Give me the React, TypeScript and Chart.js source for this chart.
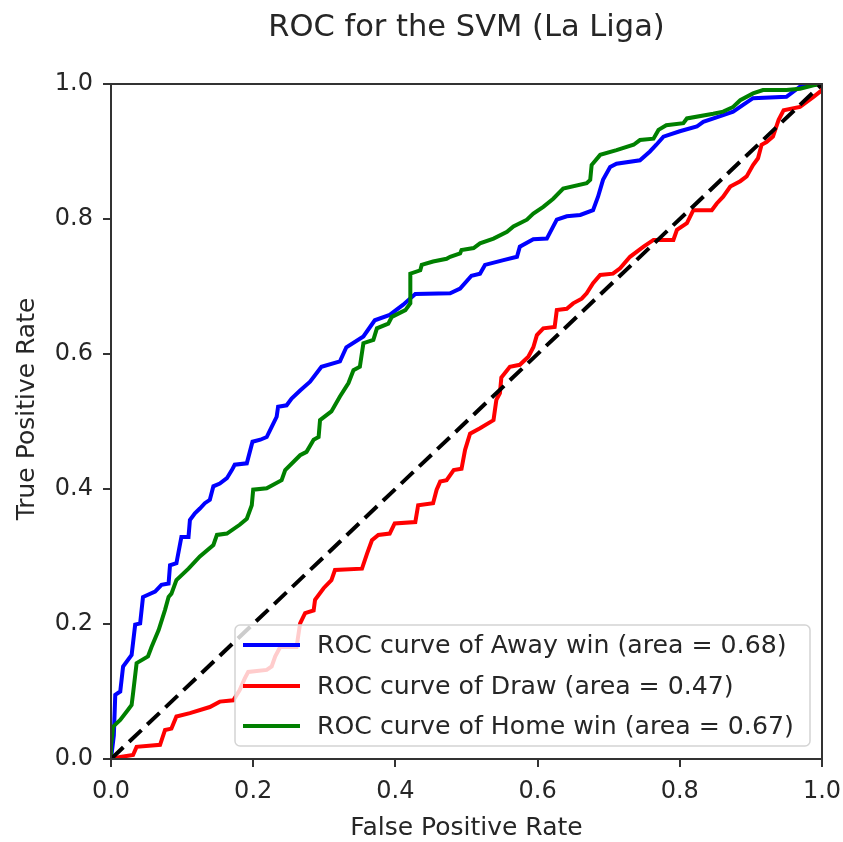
import React, { useEffect, useRef } from "react";
import { Chart, registerables } from "chart.js";

Chart.register(...registerables);

// ---- data ----
const awayFpr = [0, 0.004, 0.006, 0.013, 0.017, 0.029, 0.034, 0.041, 0.045, 0.062, 0.071, 0.081, 0.083, 0.092, 0.099, 0.109, 0.111, 0.118, 0.125, 0.132, 0.139, 0.144, 0.153, 0.163, 0.17, 0.174, 0.191, 0.199, 0.21, 0.219, 0.226, 0.233, 0.235, 0.247, 0.254, 0.266, 0.28, 0.296, 0.322, 0.331, 0.355, 0.371, 0.392, 0.411, 0.428, 0.477, 0.491, 0.507, 0.519, 0.526, 0.552, 0.571, 0.575, 0.594, 0.613, 0.622, 0.627, 0.641, 0.66, 0.678, 0.685, 0.692, 0.702, 0.711, 0.744, 0.758, 0.767, 0.777, 0.8, 0.824, 0.833, 0.861, 0.875, 0.889, 0.903, 0.95, 0.969, 0.978, 1.0];
const awayTpr = [0, 0.035, 0.095, 0.1, 0.137, 0.154, 0.199, 0.201, 0.24, 0.248, 0.258, 0.26, 0.287, 0.29, 0.329, 0.329, 0.354, 0.364, 0.371, 0.379, 0.384, 0.404, 0.408, 0.416, 0.428, 0.436, 0.438, 0.47, 0.473, 0.477, 0.492, 0.507, 0.522, 0.524, 0.534, 0.546, 0.559, 0.581, 0.589, 0.61, 0.626, 0.65, 0.658, 0.673, 0.689, 0.69, 0.697, 0.716, 0.719, 0.732, 0.739, 0.744, 0.759, 0.77, 0.771, 0.789, 0.799, 0.804, 0.806, 0.813, 0.833, 0.858, 0.877, 0.882, 0.887, 0.9, 0.91, 0.922, 0.93, 0.937, 0.944, 0.954, 0.959, 0.969, 0.979, 0.981, 0.996, 1.0, 1.0];

const drawFpr = [0, 0.013, 0.031, 0.036, 0.069, 0.076, 0.085, 0.092, 0.111, 0.139, 0.153, 0.172, 0.181, 0.188, 0.193, 0.219, 0.226, 0.231, 0.238, 0.261, 0.266, 0.273, 0.285, 0.287, 0.299, 0.31, 0.315, 0.353, 0.36, 0.367, 0.376, 0.392, 0.399, 0.428, 0.432, 0.453, 0.458, 0.463, 0.472, 0.482, 0.493, 0.498, 0.505, 0.519, 0.538, 0.542, 0.547, 0.549, 0.561, 0.575, 0.587, 0.594, 0.599, 0.608, 0.624, 0.627, 0.641, 0.65, 0.662, 0.669, 0.678, 0.688, 0.706, 0.716, 0.73, 0.749, 0.763, 0.791, 0.796, 0.81, 0.819, 0.845, 0.852, 0.861, 0.871, 0.885, 0.894, 0.903, 0.91, 0.915, 0.922, 0.931, 0.939, 0.946, 0.969, 0.988, 1.0, 1.0];
const drawTpr = [0, 0.003, 0.006, 0.018, 0.021, 0.043, 0.045, 0.063, 0.068, 0.077, 0.085, 0.087, 0.102, 0.119, 0.129, 0.132, 0.137, 0.152, 0.166, 0.166, 0.201, 0.216, 0.22, 0.236, 0.253, 0.265, 0.28, 0.282, 0.304, 0.324, 0.332, 0.334, 0.349, 0.351, 0.376, 0.379, 0.399, 0.411, 0.413, 0.428, 0.43, 0.458, 0.482, 0.49, 0.502, 0.532, 0.542, 0.565, 0.581, 0.584, 0.596, 0.61, 0.628, 0.638, 0.64, 0.665, 0.667, 0.675, 0.682, 0.69, 0.705, 0.717, 0.719, 0.727, 0.744, 0.759, 0.769, 0.769, 0.784, 0.794, 0.813, 0.813, 0.823, 0.833, 0.848, 0.856, 0.863, 0.88, 0.89, 0.91, 0.914, 0.922, 0.947, 0.961, 0.966, 0.981, 0.991, 1.0];

const homeFpr = [0, 0, 0.003, 0.013, 0.024, 0.029, 0.031, 0.036, 0.052, 0.057, 0.067, 0.076, 0.081, 0.085, 0.092, 0.109, 0.125, 0.144, 0.149, 0.163, 0.181, 0.191, 0.198, 0.2, 0.219, 0.24, 0.245, 0.266, 0.275, 0.285, 0.292, 0.294, 0.31, 0.322, 0.334, 0.341, 0.35, 0.355, 0.369, 0.374, 0.39, 0.395, 0.414, 0.421, 0.421, 0.435, 0.437, 0.453, 0.472, 0.477, 0.491, 0.493, 0.51, 0.519, 0.538, 0.557, 0.566, 0.585, 0.594, 0.608, 0.622, 0.636, 0.669, 0.674, 0.676, 0.688, 0.711, 0.735, 0.744, 0.763, 0.77, 0.781, 0.805, 0.81, 0.847, 0.861, 0.875, 0.885, 0.903, 0.917, 0.95, 0.969, 0.988, 1.0];
const homeTpr = [0, 0.02, 0.048, 0.058, 0.073, 0.08, 0.097, 0.142, 0.152, 0.166, 0.191, 0.221, 0.24, 0.245, 0.265, 0.282, 0.3, 0.317, 0.332, 0.334, 0.347, 0.356, 0.376, 0.399, 0.401, 0.413, 0.428, 0.45, 0.455, 0.473, 0.477, 0.502, 0.515, 0.537, 0.557, 0.576, 0.581, 0.616, 0.621, 0.638, 0.645, 0.655, 0.665, 0.675, 0.719, 0.724, 0.732, 0.737, 0.741, 0.744, 0.749, 0.754, 0.757, 0.764, 0.771, 0.781, 0.789, 0.799, 0.808, 0.818, 0.83, 0.845, 0.853, 0.858, 0.88, 0.895, 0.902, 0.91, 0.917, 0.919, 0.932, 0.939, 0.942, 0.949, 0.956, 0.959, 0.966, 0.976, 0.986, 0.991, 0.991, 0.993, 0.998, 1.0];

const chanceX = [0, 1];
const chanceY = [0, 1];

const seriesLabels = [
  "ROC curve of Away win (area = 0.68)",
  "ROC curve of Draw (area = 0.47)",
  "ROC curve of Home win (area = 0.67)",
];
const seriesColors = ["#0000ff", "#ff0000", "#008000"];
const tickValues = [0, 0.2, 0.4, 0.6, 0.8, 1.0];
const titleText = "ROC for the SVM (La Liga)";
const xTitle = "False Positive Rate";
const yTitle = "True Positive Rate";

const FONT = '"DejaVu Sans", "Liberation Sans", sans-serif';
const TEXT = "#262626";
const SPINE = "#333333";

function pts(xs: number[], ys: number[]) {
  return xs.map((x, i) => ({ x, y: ys[i] }));
}

const decor = {
  id: "decor",
  afterDraw(chart: any) {
    const { ctx, chartArea: a } = chart;
    ctx.save();
    // frame (spines)
    ctx.strokeStyle = SPINE;
    ctx.lineWidth = 2;
    ctx.strokeRect(a.left, a.top, a.right - a.left, a.bottom - a.top);

    // titles
    ctx.fillStyle = TEXT;
    ctx.textAlign = "center";
    ctx.textBaseline = "alphabetic";
    ctx.font = `30.5px ${FONT}`;
    const cx = (a.left + a.right) / 2;
    ctx.fillText(titleText, cx, 36);
    ctx.font = `25px ${FONT}`;
    ctx.fillText(xTitle, cx, 835);
    ctx.save();
    ctx.translate(34, 409);
    ctx.rotate(-Math.PI / 2);
    ctx.fillText(yTitle, 0, 0);
    ctx.restore();

    // legend (lower right, inside axes)
    const lx = 235, ly = 625, lw = 575, lh = 121;
    ctx.beginPath();
    (ctx as any).roundRect(lx, ly, lw, lh, 5);
    ctx.fillStyle = "rgba(255,255,255,0.8)";
    ctx.fill();
    ctx.strokeStyle = "#d4d4d4";
    ctx.lineWidth = 1.5;
    ctx.stroke();
    const rows = [645, 686, 726];
    ctx.textAlign = "left";
    ctx.textBaseline = "middle";
    ctx.font = `25.2px ${FONT}`;
    seriesLabels.forEach((lab, i) => {
      ctx.strokeStyle = seriesColors[i];
      ctx.lineWidth = 4;
      ctx.beginPath();
      ctx.moveTo(243, rows[i]);
      ctx.lineTo(300, rows[i]);
      ctx.stroke();
      ctx.fillStyle = TEXT;
      ctx.fillText(lab, 317, rows[i] + 1);
    });
    ctx.restore();
  },
};

export default function App() {
  const ref = useRef<HTMLCanvasElement | null>(null);
  useEffect(() => {
    if (!ref.current) return;
    const tickCfg = {
      color: TEXT,
      font: { family: FONT, size: 24 },
      padding: 10,
      maxRotation: 0,
      callback: (v: any) => Number(v).toFixed(1),
    };
    const gridCfg = {
      display: true,
      drawOnChartArea: false,
      drawTicks: true,
      tickLength: 8,
      color: SPINE,
      lineWidth: 2,
    };
    const chart = new Chart(ref.current, {
      type: "line",
      data: {
        datasets: [
          { label: seriesLabels[0], data: pts(awayFpr, awayTpr), borderColor: seriesColors[0], order: 4 },
          { label: seriesLabels[1], data: pts(drawFpr, drawTpr), borderColor: seriesColors[1], order: 3 },
          { label: seriesLabels[2], data: pts(homeFpr, homeTpr), borderColor: seriesColors[2], order: 2 },
          { label: "chance", data: pts(chanceX, chanceY), borderColor: "#000000", borderDash: [17, 8], order: 1 },
        ].map((d) => ({
          ...d,
          borderWidth: 4,
          pointRadius: 0,
          tension: 0,
          fill: false,
          borderJoinStyle: "miter" as const,
        })),
      },
      options: {
        animation: false,
        responsive: false,
        devicePixelRatio: 1,
        layout: { padding: { left: 0, right: 21, top: 84, bottom: 0 } },
        plugins: { legend: { display: false }, title: { display: false }, tooltip: { enabled: false } },
        events: [],
        scales: {
          x: {
            type: "linear",
            min: 0,
            max: 1,
            border: { display: false },
            grid: gridCfg,
            ticks: tickCfg,
            afterBuildTicks: (s: any) => {
              s.ticks = tickValues.map((v) => ({ value: v }));
            },
            afterFit: (s: any) => {
              s.height = 83;
              s.paddingLeft = 0;
              s.paddingRight = 0;
            },
          },
          y: {
            type: "linear",
            min: 0,
            max: 1,
            border: { display: false },
            grid: gridCfg,
            ticks: tickCfg,
            afterBuildTicks: (s: any) => {
              s.ticks = tickValues.map((v) => ({ value: v }));
            },
            afterFit: (s: any) => {
              s.width = 111;
              s.paddingTop = 0;
              s.paddingBottom = 0;
            },
          },
        },
      } as any,
      plugins: [decor],
    });
    return () => chart.destroy();
  }, []);
  return (
    <div style={{ position: "absolute", left: 0, top: 0, width: 843, height: 842, background: "#fff" }}>
      <canvas ref={ref} width={843} height={842} style={{ display: "block" }} />
    </div>
  );
}
